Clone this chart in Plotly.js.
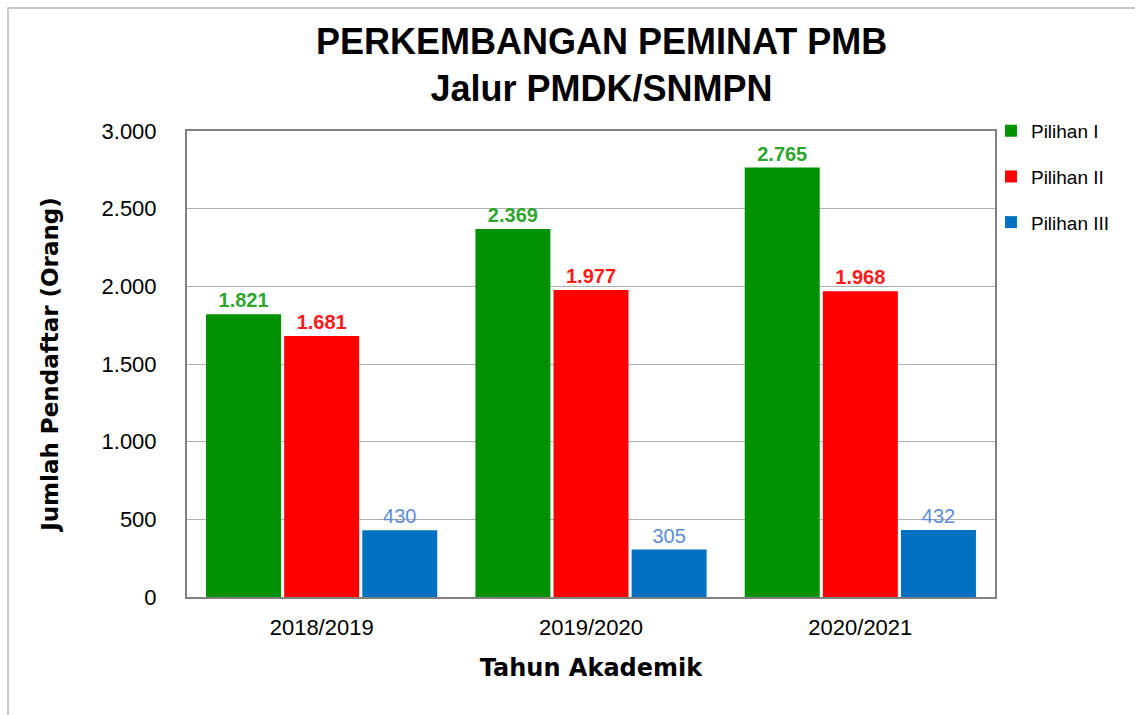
<!DOCTYPE html>
<html><head><meta charset="utf-8">
<script src="https://cdn.plot.ly/plotly-3.0.1.min.js"></script>
<style>body{margin:0;background:#fff}#c{width:1135px;height:715px}</style>
</head><body><div id="c"></div>
<script>
const years = ["2018/2019", "2019/2020", "2020/2021"];
const pilihan1 = [1821, 2369, 2765];
const pilihan2 = [1681, 1977, 1968];
const pilihan3 = [430, 305, 432];
const seriesNames = ["Pilihan I", "Pilihan II", "Pilihan III"];

const FONT = "Liberation Sans, Arial, sans-serif";
const TFONT = "DejaVu Sans, Verdana, sans-serif";
function bar(y, name, color, labelColor, bold, grp) {
  return {
    type: "bar", x: years, y: y, name: name, legendgroup: grp,
    marker: {color: color},
    texttemplate: bold ? "<b>%{y:,}</b>" : "%{y:,}",
    textposition: "outside",
    textfont: {family: FONT, size: 20, color: labelColor},
    cliponaxis: false
  };
}
const data = [
  bar(pilihan1, seriesNames[0], "#009100", "#2ea62e", true, "a"),
  bar(pilihan2, seriesNames[1], "#ff0000", "#ff1a1a", true, "b"),
  bar(pilihan3, seriesNames[2], "#0070c0", "#5b8ed8", false, "c")
];
const layout = {
  width: 1135, height: 715,
  margin: {l: 187, r: 140, t: 131, b: 118},
  paper_bgcolor: "#fff", plot_bgcolor: "#fff",
  separators: ",.",
  font: {family: FONT, color: "#000"},
  title: {text: "<b>PERKEMBANGAN PEMINAT PMB<br>Jalur PMDK/SNMPN</b>",
          font: {family: FONT, size: 36, color: "#000"},
          x: 0.53, xanchor: "center", y: 0.924, yanchor: "middle"},
  bargap: 0.13, bargroupgap: 0.04,
  xaxis: {showline: true, linecolor: "#808080", linewidth: 2, mirror: true,
          tickfont: {size: 22}, ticks: "", ticklabelstandoff: 10,
          title: {text: "<b>Tahun Akademik</b>", font: {family: TFONT, size: 24}, standoff: 20}},
  yaxis: {range: [0, 3000], dtick: 500, separatethousands: true, tickformat: ",d",
          showline: true, linecolor: "#808080", linewidth: 2, mirror: true,
          gridcolor: "#b0b0b0", gridwidth: 1, zeroline: false,
          tickfont: {size: 22}, ticklabelstandoff: 24,
          title: {text: "<b>Jumlah Pendaftar (Orang)</b>", font: {family: TFONT, size: 23}, standoff: 36}},
  legend: {x: 0.995, y: 1.041, xanchor: "left", yanchor: "top",
           bgcolor: "rgba(0,0,0,0)",
           font: {size: 19}, itemwidth: 30, tracegroupgap: 18,
           traceorder: "grouped"},
  shapes: [{type: "rect", xref: "paper", yref: "paper",
            x0: -0.2215, x1: 1.4, y0: -0.5, y1: 1.264,
            line: {color: "#c8c8c8", width: 2}}]
};
Plotly.newPlot("c", data, layout, {displayModeBar: false, staticPlot: true});
</script></body></html>
